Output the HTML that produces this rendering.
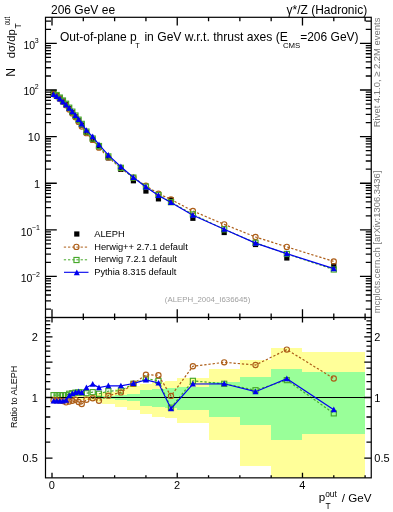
<!DOCTYPE html><html><head><meta charset="utf-8"><style>html,body{margin:0;padding:0;background:#fff;width:393px;height:512px;overflow:hidden}svg{display:block;font-family:"Liberation Sans",sans-serif}svg{will-change:transform}</style></head><body>
<svg width="393" height="512" viewBox="0 0 393 512">
<defs><clipPath id="cm"><rect x="45.50" y="17.30" width="325.75" height="300.20"/></clipPath>
<clipPath id="cr"><rect x="45.50" y="317.50" width="325.75" height="160.35"/></clipPath></defs>
<g clip-path="url(#cr)" shape-rendering="crispEdges">
<rect x="52.00" y="395.77" width="3.13" height="3.50" fill="#ffff99"/>
<rect x="52.00" y="396.80" width="3.13" height="1.40" fill="#99ff99"/>
<rect x="55.13" y="395.77" width="3.13" height="3.50" fill="#ffff99"/>
<rect x="55.13" y="396.80" width="3.13" height="1.40" fill="#99ff99"/>
<rect x="58.26" y="395.77" width="3.13" height="3.50" fill="#ffff99"/>
<rect x="58.26" y="396.80" width="3.13" height="1.40" fill="#99ff99"/>
<rect x="61.39" y="395.77" width="3.13" height="3.50" fill="#ffff99"/>
<rect x="61.39" y="396.80" width="3.13" height="1.40" fill="#99ff99"/>
<rect x="64.52" y="395.77" width="3.13" height="3.50" fill="#ffff99"/>
<rect x="64.52" y="396.80" width="3.13" height="1.40" fill="#99ff99"/>
<rect x="67.66" y="395.77" width="3.13" height="3.50" fill="#ffff99"/>
<rect x="67.66" y="396.80" width="3.13" height="1.40" fill="#99ff99"/>
<rect x="70.79" y="395.77" width="3.13" height="3.50" fill="#ffff99"/>
<rect x="70.79" y="396.80" width="3.13" height="1.40" fill="#99ff99"/>
<rect x="73.92" y="395.77" width="3.13" height="3.50" fill="#ffff99"/>
<rect x="73.92" y="396.80" width="3.13" height="1.40" fill="#99ff99"/>
<rect x="77.05" y="395.34" width="3.13" height="4.37" fill="#ffff99"/>
<rect x="77.05" y="396.80" width="3.13" height="1.40" fill="#99ff99"/>
<rect x="80.18" y="395.34" width="3.13" height="4.37" fill="#ffff99"/>
<rect x="80.18" y="396.80" width="3.13" height="1.40" fill="#99ff99"/>
<rect x="83.31" y="394.92" width="6.26" height="5.25" fill="#ffff99"/>
<rect x="83.31" y="396.63" width="6.26" height="1.75" fill="#99ff99"/>
<rect x="89.57" y="394.07" width="6.26" height="7.00" fill="#ffff99"/>
<rect x="89.57" y="396.46" width="6.26" height="2.10" fill="#99ff99"/>
<rect x="95.83" y="393.23" width="6.26" height="8.75" fill="#ffff99"/>
<rect x="95.83" y="396.28" width="6.26" height="2.45" fill="#99ff99"/>
<rect x="102.10" y="391.79" width="12.52" height="11.82" fill="#ffff99"/>
<rect x="102.10" y="396.03" width="12.52" height="2.97" fill="#99ff99"/>
<rect x="114.62" y="388.85" width="12.52" height="18.25" fill="#ffff99"/>
<rect x="114.62" y="395.26" width="12.52" height="4.55" fill="#99ff99"/>
<rect x="127.14" y="386.20" width="12.52" height="24.28" fill="#ffff99"/>
<rect x="127.14" y="394.07" width="12.52" height="7.00" fill="#99ff99"/>
<rect x="139.67" y="383.77" width="12.52" height="30.02" fill="#ffff99"/>
<rect x="139.67" y="390.05" width="12.52" height="15.60" fill="#99ff99"/>
<rect x="152.19" y="381.85" width="12.52" height="34.72" fill="#ffff99"/>
<rect x="152.19" y="389.17" width="12.52" height="17.54" fill="#99ff99"/>
<rect x="164.72" y="380.84" width="12.52" height="37.27" fill="#ffff99"/>
<rect x="164.72" y="388.22" width="12.52" height="19.67" fill="#99ff99"/>
<rect x="177.24" y="377.99" width="31.31" height="44.66" fill="#ffff99"/>
<rect x="177.24" y="386.89" width="31.31" height="22.68" fill="#99ff99"/>
<rect x="208.55" y="369.09" width="31.31" height="70.77" fill="#ffff99"/>
<rect x="208.55" y="381.56" width="31.31" height="35.45" fill="#99ff99"/>
<rect x="239.86" y="359.53" width="31.31" height="106.63" fill="#ffff99"/>
<rect x="239.86" y="376.60" width="31.31" height="48.41" fill="#99ff99"/>
<rect x="271.17" y="347.98" width="31.31" height="175.02" fill="#ffff99"/>
<rect x="271.17" y="369.15" width="31.31" height="70.56" fill="#99ff99"/>
<rect x="302.48" y="351.83" width="62.62" height="146.93" fill="#ffff99"/>
<rect x="302.48" y="372.04" width="62.62" height="61.52" fill="#99ff99"/>
</g>
<g clip-path="url(#cr)">
<path d="M53.57,395.17 L56.70,395.17 L59.83,395.17 L62.96,395.17 L66.09,395.17 L69.22,393.74 L72.35,393.23 L75.48,392.65 L78.61,392.41 L81.74,392.41 L86.44,393.23 L92.70,392.16 L98.97,393.74 L108.36,391.18 L120.88,390.61 L133.41,383.77 L145.93,378.69 L158.45,380.84 L170.98,407.69 L192.89,380.84 L224.20,383.77 L255.51,390.21 L286.82,380.12 L333.79,413.37" fill="none" stroke="#46a82a" stroke-width="1.2" stroke-dasharray="2.3,1.9"/><rect x="51.02" y="392.62" width="5.1" height="5.1" fill="none" stroke="#46a82a" stroke-width="1.15"/><rect x="54.15" y="392.62" width="5.1" height="5.1" fill="none" stroke="#46a82a" stroke-width="1.15"/><rect x="57.28" y="392.62" width="5.1" height="5.1" fill="none" stroke="#46a82a" stroke-width="1.15"/><rect x="60.41" y="392.62" width="5.1" height="5.1" fill="none" stroke="#46a82a" stroke-width="1.15"/><rect x="63.54" y="392.62" width="5.1" height="5.1" fill="none" stroke="#46a82a" stroke-width="1.15"/><rect x="66.67" y="391.19" width="5.1" height="5.1" fill="none" stroke="#46a82a" stroke-width="1.15"/><rect x="69.80" y="390.68" width="5.1" height="5.1" fill="none" stroke="#46a82a" stroke-width="1.15"/><rect x="72.93" y="390.10" width="5.1" height="5.1" fill="none" stroke="#46a82a" stroke-width="1.15"/><rect x="76.06" y="389.86" width="5.1" height="5.1" fill="none" stroke="#46a82a" stroke-width="1.15"/><rect x="79.19" y="389.86" width="5.1" height="5.1" fill="none" stroke="#46a82a" stroke-width="1.15"/><rect x="83.89" y="390.68" width="5.1" height="5.1" fill="none" stroke="#46a82a" stroke-width="1.15"/><rect x="90.15" y="389.61" width="5.1" height="5.1" fill="none" stroke="#46a82a" stroke-width="1.15"/><rect x="96.42" y="391.19" width="5.1" height="5.1" fill="none" stroke="#46a82a" stroke-width="1.15"/><rect x="105.81" y="388.63" width="5.1" height="5.1" fill="none" stroke="#46a82a" stroke-width="1.15"/><rect x="118.33" y="388.06" width="5.1" height="5.1" fill="none" stroke="#46a82a" stroke-width="1.15"/><rect x="130.86" y="381.22" width="5.1" height="5.1" fill="none" stroke="#46a82a" stroke-width="1.15"/><rect x="143.38" y="376.14" width="5.1" height="5.1" fill="none" stroke="#46a82a" stroke-width="1.15"/><rect x="155.90" y="378.29" width="5.1" height="5.1" fill="none" stroke="#46a82a" stroke-width="1.15"/><rect x="168.43" y="405.14" width="5.1" height="5.1" fill="none" stroke="#46a82a" stroke-width="1.15"/><rect x="190.34" y="378.29" width="5.1" height="5.1" fill="none" stroke="#46a82a" stroke-width="1.15"/><rect x="221.65" y="381.22" width="5.1" height="5.1" fill="none" stroke="#46a82a" stroke-width="1.15"/><rect x="252.96" y="387.66" width="5.1" height="5.1" fill="none" stroke="#46a82a" stroke-width="1.15"/><rect x="284.27" y="377.57" width="5.1" height="5.1" fill="none" stroke="#46a82a" stroke-width="1.15"/><rect x="331.24" y="410.82" width="5.1" height="5.1" fill="none" stroke="#46a82a" stroke-width="1.15"/>
<line x1="45.5" y1="397.5" x2="371.25" y2="397.5" stroke="#000" stroke-width="1"/>
<path d="M53.57,400.16 L56.70,400.16 L59.83,400.61 L62.96,401.07 L66.09,402.35 L69.22,401.53 L72.35,400.71 L75.48,399.80 L78.61,401.98 L81.74,404.03 L86.44,399.80 L92.70,398.20 L98.97,400.71 L108.36,395.68 L120.88,392.41 L133.41,383.77 L145.93,374.77 L158.45,375.24 L170.98,395.94 L192.89,366.23 L224.20,362.34 L255.51,365.02 L286.82,349.58 L333.79,378.55" fill="none" stroke="#ad5e18" stroke-width="1.2" stroke-dasharray="2.3,1.9"/><circle cx="53.57" cy="400.16" r="2.6" fill="none" stroke="#ad5e18" stroke-width="1.15"/><circle cx="56.70" cy="400.16" r="2.6" fill="none" stroke="#ad5e18" stroke-width="1.15"/><circle cx="59.83" cy="400.61" r="2.6" fill="none" stroke="#ad5e18" stroke-width="1.15"/><circle cx="62.96" cy="401.07" r="2.6" fill="none" stroke="#ad5e18" stroke-width="1.15"/><circle cx="66.09" cy="402.35" r="2.6" fill="none" stroke="#ad5e18" stroke-width="1.15"/><circle cx="69.22" cy="401.53" r="2.6" fill="none" stroke="#ad5e18" stroke-width="1.15"/><circle cx="72.35" cy="400.71" r="2.6" fill="none" stroke="#ad5e18" stroke-width="1.15"/><circle cx="75.48" cy="399.80" r="2.6" fill="none" stroke="#ad5e18" stroke-width="1.15"/><circle cx="78.61" cy="401.98" r="2.6" fill="none" stroke="#ad5e18" stroke-width="1.15"/><circle cx="81.74" cy="404.03" r="2.6" fill="none" stroke="#ad5e18" stroke-width="1.15"/><circle cx="86.44" cy="399.80" r="2.6" fill="none" stroke="#ad5e18" stroke-width="1.15"/><circle cx="92.70" cy="398.20" r="2.6" fill="none" stroke="#ad5e18" stroke-width="1.15"/><circle cx="98.97" cy="400.71" r="2.6" fill="none" stroke="#ad5e18" stroke-width="1.15"/><circle cx="108.36" cy="395.68" r="2.6" fill="none" stroke="#ad5e18" stroke-width="1.15"/><circle cx="120.88" cy="392.41" r="2.6" fill="none" stroke="#ad5e18" stroke-width="1.15"/><circle cx="133.41" cy="383.77" r="2.6" fill="none" stroke="#ad5e18" stroke-width="1.15"/><circle cx="145.93" cy="374.77" r="2.6" fill="none" stroke="#ad5e18" stroke-width="1.15"/><circle cx="158.45" cy="375.24" r="2.6" fill="none" stroke="#ad5e18" stroke-width="1.15"/><circle cx="170.98" cy="395.94" r="2.6" fill="none" stroke="#ad5e18" stroke-width="1.15"/><circle cx="192.89" cy="366.23" r="2.6" fill="none" stroke="#ad5e18" stroke-width="1.15"/><circle cx="224.20" cy="362.34" r="2.6" fill="none" stroke="#ad5e18" stroke-width="1.15"/><circle cx="255.51" cy="365.02" r="2.6" fill="none" stroke="#ad5e18" stroke-width="1.15"/><circle cx="286.82" cy="349.58" r="2.6" fill="none" stroke="#ad5e18" stroke-width="1.15"/><circle cx="333.79" cy="378.55" r="2.6" fill="none" stroke="#ad5e18" stroke-width="1.15"/>
<path d="M53.57,401.07 L56.70,401.07 L59.83,401.07 L62.96,401.07 L66.09,400.16 L69.22,395.77 L72.35,393.74 L75.48,392.41 L78.61,391.59 L81.74,392.65 L86.44,387.59 L92.70,384.15 L98.97,387.59 L108.36,385.74 L120.88,385.82 L133.41,383.48 L145.93,379.83 L158.45,383.03 L170.98,408.68 L192.89,384.00 L224.20,383.77 L255.51,391.67 L286.82,378.69 L333.79,409.67" fill="none" stroke="#0000ee" stroke-width="1.15"/><path d="M50.57,403.62L56.57,403.62L53.57,397.92Z" fill="#0000ee"/><path d="M53.70,403.62L59.70,403.62L56.70,397.92Z" fill="#0000ee"/><path d="M56.83,403.62L62.83,403.62L59.83,397.92Z" fill="#0000ee"/><path d="M59.96,403.62L65.96,403.62L62.96,397.92Z" fill="#0000ee"/><path d="M63.09,402.71L69.09,402.71L66.09,397.01Z" fill="#0000ee"/><path d="M66.22,398.32L72.22,398.32L69.22,392.62Z" fill="#0000ee"/><path d="M69.35,396.29L75.35,396.29L72.35,390.59Z" fill="#0000ee"/><path d="M72.48,394.96L78.48,394.96L75.48,389.26Z" fill="#0000ee"/><path d="M75.61,394.14L81.61,394.14L78.61,388.44Z" fill="#0000ee"/><path d="M78.74,395.20L84.74,395.20L81.74,389.50Z" fill="#0000ee"/><path d="M83.44,390.14L89.44,390.14L86.44,384.44Z" fill="#0000ee"/><path d="M89.70,386.70L95.70,386.70L92.70,381.00Z" fill="#0000ee"/><path d="M95.97,390.14L101.97,390.14L98.97,384.44Z" fill="#0000ee"/><path d="M105.36,388.29L111.36,388.29L108.36,382.59Z" fill="#0000ee"/><path d="M117.88,388.37L123.88,388.37L120.88,382.67Z" fill="#0000ee"/><path d="M130.41,386.03L136.41,386.03L133.41,380.33Z" fill="#0000ee"/><path d="M142.93,382.38L148.93,382.38L145.93,376.68Z" fill="#0000ee"/><path d="M155.45,385.58L161.45,385.58L158.45,379.88Z" fill="#0000ee"/><path d="M167.98,411.23L173.98,411.23L170.98,405.53Z" fill="#0000ee"/><path d="M189.89,386.55L195.89,386.55L192.89,380.85Z" fill="#0000ee"/><path d="M221.20,386.32L227.20,386.32L224.20,380.62Z" fill="#0000ee"/><path d="M252.51,394.22L258.51,394.22L255.51,388.52Z" fill="#0000ee"/><path d="M283.82,381.24L289.82,381.24L286.82,375.54Z" fill="#0000ee"/><path d="M330.79,412.22L336.79,412.22L333.79,406.52Z" fill="#0000ee"/>
</g>
<g clip-path="url(#cm)">
<rect x="50.97" y="90.94" width="5.2" height="5.2" fill="#000"/><rect x="54.10" y="92.97" width="5.2" height="5.2" fill="#000"/><rect x="57.23" y="95.52" width="5.2" height="5.2" fill="#000"/><rect x="60.36" y="98.44" width="5.2" height="5.2" fill="#000"/><rect x="63.49" y="101.64" width="5.2" height="5.2" fill="#000"/><rect x="66.62" y="105.96" width="5.2" height="5.2" fill="#000"/><rect x="69.75" y="110.04" width="5.2" height="5.2" fill="#000"/><rect x="72.88" y="114.06" width="5.2" height="5.2" fill="#000"/><rect x="76.01" y="118.24" width="5.2" height="5.2" fill="#000"/><rect x="79.14" y="122.46" width="5.2" height="5.2" fill="#000"/><rect x="83.84" y="129.99" width="5.2" height="5.2" fill="#000"/><rect x="90.10" y="137.19" width="5.2" height="5.2" fill="#000"/><rect x="96.37" y="144.29" width="5.2" height="5.2" fill="#000"/><rect x="105.76" y="155.27" width="5.2" height="5.2" fill="#000"/><rect x="118.28" y="166.80" width="5.2" height="5.2" fill="#000"/><rect x="130.81" y="178.16" width="5.2" height="5.2" fill="#000"/><rect x="143.33" y="188.44" width="5.2" height="5.2" fill="#000"/><rect x="155.85" y="196.26" width="5.2" height="5.2" fill="#000"/><rect x="168.38" y="197.25" width="5.2" height="5.2" fill="#000"/><rect x="190.29" y="215.68" width="5.2" height="5.2" fill="#000"/><rect x="221.60" y="229.90" width="5.2" height="5.2" fill="#000"/><rect x="252.91" y="241.89" width="5.2" height="5.2" fill="#000"/><rect x="284.22" y="255.38" width="5.2" height="5.2" fill="#000"/><rect x="331.19" y="263.23" width="5.2" height="5.2" fill="#000"/>
<path d="M53.57,94.16 L56.70,96.18 L59.83,98.84 L62.96,101.86 L66.09,105.37 L69.22,109.49 L72.35,113.38 L75.48,117.20 L78.61,121.88 L81.74,126.57 L86.44,133.13 L92.70,139.95 L98.97,147.64 L108.36,157.45 L120.88,168.22 L133.41,177.58 L145.93,185.77 L158.45,193.71 L170.98,199.49 L192.89,211.04 L224.20,224.36 L255.51,236.97 L286.82,246.89 L333.79,261.44" fill="none" stroke="#ad5e18" stroke-width="1.2" stroke-dasharray="2.3,1.9"/><circle cx="53.57" cy="94.16" r="2.6" fill="none" stroke="#ad5e18" stroke-width="1.15"/><circle cx="56.70" cy="96.18" r="2.6" fill="none" stroke="#ad5e18" stroke-width="1.15"/><circle cx="59.83" cy="98.84" r="2.6" fill="none" stroke="#ad5e18" stroke-width="1.15"/><circle cx="62.96" cy="101.86" r="2.6" fill="none" stroke="#ad5e18" stroke-width="1.15"/><circle cx="66.09" cy="105.37" r="2.6" fill="none" stroke="#ad5e18" stroke-width="1.15"/><circle cx="69.22" cy="109.49" r="2.6" fill="none" stroke="#ad5e18" stroke-width="1.15"/><circle cx="72.35" cy="113.38" r="2.6" fill="none" stroke="#ad5e18" stroke-width="1.15"/><circle cx="75.48" cy="117.20" r="2.6" fill="none" stroke="#ad5e18" stroke-width="1.15"/><circle cx="78.61" cy="121.88" r="2.6" fill="none" stroke="#ad5e18" stroke-width="1.15"/><circle cx="81.74" cy="126.57" r="2.6" fill="none" stroke="#ad5e18" stroke-width="1.15"/><circle cx="86.44" cy="133.13" r="2.6" fill="none" stroke="#ad5e18" stroke-width="1.15"/><circle cx="92.70" cy="139.95" r="2.6" fill="none" stroke="#ad5e18" stroke-width="1.15"/><circle cx="98.97" cy="147.64" r="2.6" fill="none" stroke="#ad5e18" stroke-width="1.15"/><circle cx="108.36" cy="157.45" r="2.6" fill="none" stroke="#ad5e18" stroke-width="1.15"/><circle cx="120.88" cy="168.22" r="2.6" fill="none" stroke="#ad5e18" stroke-width="1.15"/><circle cx="133.41" cy="177.58" r="2.6" fill="none" stroke="#ad5e18" stroke-width="1.15"/><circle cx="145.93" cy="185.77" r="2.6" fill="none" stroke="#ad5e18" stroke-width="1.15"/><circle cx="158.45" cy="193.71" r="2.6" fill="none" stroke="#ad5e18" stroke-width="1.15"/><circle cx="170.98" cy="199.49" r="2.6" fill="none" stroke="#ad5e18" stroke-width="1.15"/><circle cx="192.89" cy="211.04" r="2.6" fill="none" stroke="#ad5e18" stroke-width="1.15"/><circle cx="224.20" cy="224.36" r="2.6" fill="none" stroke="#ad5e18" stroke-width="1.15"/><circle cx="255.51" cy="236.97" r="2.6" fill="none" stroke="#ad5e18" stroke-width="1.15"/><circle cx="286.82" cy="246.89" r="2.6" fill="none" stroke="#ad5e18" stroke-width="1.15"/><circle cx="333.79" cy="261.44" r="2.6" fill="none" stroke="#ad5e18" stroke-width="1.15"/>
<path d="M53.57,93.00 L56.70,95.03 L59.83,97.58 L62.96,100.50 L66.09,103.71 L69.22,107.69 L72.35,111.65 L75.48,115.54 L78.61,119.67 L81.74,123.88 L86.44,131.61 L92.70,138.55 L98.97,146.02 L108.36,156.41 L120.88,167.81 L133.41,177.58 L145.93,186.68 L158.45,195.00 L170.98,202.21 L192.89,214.42 L224.20,229.32 L255.51,242.80 L286.82,253.96 L333.79,269.50" fill="none" stroke="#46a82a" stroke-width="1.2" stroke-dasharray="2.3,1.9"/><rect x="51.02" y="90.45" width="5.1" height="5.1" fill="none" stroke="#46a82a" stroke-width="1.15"/><rect x="54.15" y="92.48" width="5.1" height="5.1" fill="none" stroke="#46a82a" stroke-width="1.15"/><rect x="57.28" y="95.03" width="5.1" height="5.1" fill="none" stroke="#46a82a" stroke-width="1.15"/><rect x="60.41" y="97.95" width="5.1" height="5.1" fill="none" stroke="#46a82a" stroke-width="1.15"/><rect x="63.54" y="101.16" width="5.1" height="5.1" fill="none" stroke="#46a82a" stroke-width="1.15"/><rect x="66.67" y="105.14" width="5.1" height="5.1" fill="none" stroke="#46a82a" stroke-width="1.15"/><rect x="69.80" y="109.10" width="5.1" height="5.1" fill="none" stroke="#46a82a" stroke-width="1.15"/><rect x="72.93" y="112.99" width="5.1" height="5.1" fill="none" stroke="#46a82a" stroke-width="1.15"/><rect x="76.06" y="117.12" width="5.1" height="5.1" fill="none" stroke="#46a82a" stroke-width="1.15"/><rect x="79.19" y="121.33" width="5.1" height="5.1" fill="none" stroke="#46a82a" stroke-width="1.15"/><rect x="83.89" y="129.06" width="5.1" height="5.1" fill="none" stroke="#46a82a" stroke-width="1.15"/><rect x="90.15" y="136.00" width="5.1" height="5.1" fill="none" stroke="#46a82a" stroke-width="1.15"/><rect x="96.42" y="143.47" width="5.1" height="5.1" fill="none" stroke="#46a82a" stroke-width="1.15"/><rect x="105.81" y="153.86" width="5.1" height="5.1" fill="none" stroke="#46a82a" stroke-width="1.15"/><rect x="118.33" y="165.26" width="5.1" height="5.1" fill="none" stroke="#46a82a" stroke-width="1.15"/><rect x="130.86" y="175.03" width="5.1" height="5.1" fill="none" stroke="#46a82a" stroke-width="1.15"/><rect x="143.38" y="184.13" width="5.1" height="5.1" fill="none" stroke="#46a82a" stroke-width="1.15"/><rect x="155.90" y="192.45" width="5.1" height="5.1" fill="none" stroke="#46a82a" stroke-width="1.15"/><rect x="168.43" y="199.66" width="5.1" height="5.1" fill="none" stroke="#46a82a" stroke-width="1.15"/><rect x="190.34" y="211.87" width="5.1" height="5.1" fill="none" stroke="#46a82a" stroke-width="1.15"/><rect x="221.65" y="226.77" width="5.1" height="5.1" fill="none" stroke="#46a82a" stroke-width="1.15"/><rect x="252.96" y="240.25" width="5.1" height="5.1" fill="none" stroke="#46a82a" stroke-width="1.15"/><rect x="284.27" y="251.41" width="5.1" height="5.1" fill="none" stroke="#46a82a" stroke-width="1.15"/><rect x="331.24" y="266.95" width="5.1" height="5.1" fill="none" stroke="#46a82a" stroke-width="1.15"/>
<path d="M53.57,94.37 L56.70,96.39 L59.83,98.94 L62.96,101.86 L66.09,104.86 L69.22,108.16 L72.35,111.77 L75.48,115.49 L78.61,119.47 L81.74,123.94 L86.44,130.30 L92.70,136.70 L98.97,144.60 L108.36,155.15 L120.88,166.70 L133.41,177.51 L145.93,186.95 L158.45,195.51 L170.98,202.44 L192.89,215.16 L224.20,229.32 L255.51,243.14 L286.82,253.63 L333.79,268.65" fill="none" stroke="#0000ee" stroke-width="1.15"/><path d="M50.57,96.92L56.57,96.92L53.57,91.22Z" fill="#0000ee"/><path d="M53.70,98.94L59.70,98.94L56.70,93.24Z" fill="#0000ee"/><path d="M56.83,101.49L62.83,101.49L59.83,95.79Z" fill="#0000ee"/><path d="M59.96,104.41L65.96,104.41L62.96,98.71Z" fill="#0000ee"/><path d="M63.09,107.41L69.09,107.41L66.09,101.71Z" fill="#0000ee"/><path d="M66.22,110.71L72.22,110.71L69.22,105.01Z" fill="#0000ee"/><path d="M69.35,114.32L75.35,114.32L72.35,108.62Z" fill="#0000ee"/><path d="M72.48,118.04L78.48,118.04L75.48,112.34Z" fill="#0000ee"/><path d="M75.61,122.02L81.61,122.02L78.61,116.32Z" fill="#0000ee"/><path d="M78.74,126.49L84.74,126.49L81.74,120.79Z" fill="#0000ee"/><path d="M83.44,132.85L89.44,132.85L86.44,127.15Z" fill="#0000ee"/><path d="M89.70,139.25L95.70,139.25L92.70,133.55Z" fill="#0000ee"/><path d="M95.97,147.15L101.97,147.15L98.97,141.45Z" fill="#0000ee"/><path d="M105.36,157.70L111.36,157.70L108.36,152.00Z" fill="#0000ee"/><path d="M117.88,169.25L123.88,169.25L120.88,163.55Z" fill="#0000ee"/><path d="M130.41,180.06L136.41,180.06L133.41,174.36Z" fill="#0000ee"/><path d="M142.93,189.50L148.93,189.50L145.93,183.80Z" fill="#0000ee"/><path d="M155.45,198.06L161.45,198.06L158.45,192.36Z" fill="#0000ee"/><path d="M167.98,204.99L173.98,204.99L170.98,199.29Z" fill="#0000ee"/><path d="M189.89,217.71L195.89,217.71L192.89,212.01Z" fill="#0000ee"/><path d="M221.20,231.87L227.20,231.87L224.20,226.17Z" fill="#0000ee"/><path d="M252.51,245.69L258.51,245.69L255.51,239.99Z" fill="#0000ee"/><path d="M283.82,256.18L289.82,256.18L286.82,250.48Z" fill="#0000ee"/><path d="M330.79,271.20L336.79,271.20L333.79,265.50Z" fill="#0000ee"/>
</g>
<rect x="45.5" y="17.3" width="325.75" height="300.20" fill="none" stroke="#000" stroke-width="1.2"/>
<rect x="45.5" y="317.5" width="325.75" height="160.35" fill="none" stroke="#000" stroke-width="1.2"/>
<path d="M45.5,309.03h5.5M371.25,309.03h-5.5M45.5,300.82h5.5M371.25,300.82h-5.5M45.5,295.00h5.5M371.25,295.00h-5.5M45.5,290.48h5.5M371.25,290.48h-5.5M45.5,286.79h5.5M371.25,286.79h-5.5M45.5,283.67h5.5M371.25,283.67h-5.5M45.5,280.97h5.5M371.25,280.97h-5.5M45.5,278.58h5.5M371.25,278.58h-5.5M45.5,276.45h11.3M371.25,276.45h-11.3M45.5,262.42h5.5M371.25,262.42h-5.5M45.5,254.21h5.5M371.25,254.21h-5.5M45.5,248.39h5.5M371.25,248.39h-5.5M45.5,243.87h5.5M371.25,243.87h-5.5M45.5,240.18h5.5M371.25,240.18h-5.5M45.5,237.06h5.5M371.25,237.06h-5.5M45.5,234.36h5.5M371.25,234.36h-5.5M45.5,231.97h5.5M371.25,231.97h-5.5M45.5,229.84h11.3M371.25,229.84h-11.3M45.5,215.81h5.5M371.25,215.81h-5.5M45.5,207.60h5.5M371.25,207.60h-5.5M45.5,201.78h5.5M371.25,201.78h-5.5M45.5,197.26h5.5M371.25,197.26h-5.5M45.5,193.57h5.5M371.25,193.57h-5.5M45.5,190.45h5.5M371.25,190.45h-5.5M45.5,187.75h5.5M371.25,187.75h-5.5M45.5,185.36h5.5M371.25,185.36h-5.5M45.5,183.23h11.3M371.25,183.23h-11.3M45.5,169.20h5.5M371.25,169.20h-5.5M45.5,160.99h5.5M371.25,160.99h-5.5M45.5,155.17h5.5M371.25,155.17h-5.5M45.5,150.65h5.5M371.25,150.65h-5.5M45.5,146.96h5.5M371.25,146.96h-5.5M45.5,143.84h5.5M371.25,143.84h-5.5M45.5,141.14h5.5M371.25,141.14h-5.5M45.5,138.75h5.5M371.25,138.75h-5.5M45.5,136.62h11.3M371.25,136.62h-11.3M45.5,122.59h5.5M371.25,122.59h-5.5M45.5,114.38h5.5M371.25,114.38h-5.5M45.5,108.56h5.5M371.25,108.56h-5.5M45.5,104.04h5.5M371.25,104.04h-5.5M45.5,100.35h5.5M371.25,100.35h-5.5M45.5,97.23h5.5M371.25,97.23h-5.5M45.5,94.53h5.5M371.25,94.53h-5.5M45.5,92.14h5.5M371.25,92.14h-5.5M45.5,90.01h11.3M371.25,90.01h-11.3M45.5,75.98h5.5M371.25,75.98h-5.5M45.5,67.77h5.5M371.25,67.77h-5.5M45.5,61.95h5.5M371.25,61.95h-5.5M45.5,57.43h5.5M371.25,57.43h-5.5M45.5,53.74h5.5M371.25,53.74h-5.5M45.5,50.62h5.5M371.25,50.62h-5.5M45.5,47.92h5.5M371.25,47.92h-5.5M45.5,45.53h5.5M371.25,45.53h-5.5M45.5,43.40h11.3M371.25,43.40h-11.3M45.5,29.37h5.5M371.25,29.37h-5.5M45.5,21.16h5.5M371.25,21.16h-5.5M52.00,17.3v8.2M52.00,317.5v-8.2M52.00,317.5v5M52.00,477.85v-5M83.31,17.3v4M83.31,317.5v-4M83.31,317.5v2.5M83.31,477.85v-2.5M114.62,17.3v4M114.62,317.5v-4M114.62,317.5v2.5M114.62,477.85v-2.5M145.93,17.3v4M145.93,317.5v-4M145.93,317.5v2.5M145.93,477.85v-2.5M177.24,17.3v8.2M177.24,317.5v-8.2M177.24,317.5v5M177.24,477.85v-5M208.55,17.3v4M208.55,317.5v-4M208.55,317.5v2.5M208.55,477.85v-2.5M239.86,17.3v4M239.86,317.5v-4M239.86,317.5v2.5M239.86,477.85v-2.5M271.17,17.3v4M271.17,317.5v-4M271.17,317.5v2.5M271.17,477.85v-2.5M302.48,17.3v8.2M302.48,317.5v-8.2M302.48,317.5v5M302.48,477.85v-5M333.79,17.3v4M333.79,317.5v-4M333.79,317.5v2.5M333.79,477.85v-2.5M365.10,17.3v4M365.10,317.5v-4M365.10,317.5v2.5M365.10,477.85v-2.5M45.5,458.10h7M371.25,458.10h-7M45.5,442.16h4.8M371.25,442.16h-4.8M45.5,428.68h4.8M371.25,428.68h-4.8M45.5,417.01h4.8M371.25,417.01h-4.8M45.5,406.71h4.8M371.25,406.71h-4.8M45.5,397.50h7M371.25,397.50h-7M45.5,389.17h4.8M371.25,389.17h-4.8M45.5,381.56h4.8M371.25,381.56h-4.8M45.5,374.56h4.8M371.25,374.56h-4.8M45.5,368.08h4.8M371.25,368.08h-4.8M45.5,362.05h7M371.25,362.05h-7M45.5,356.41h4.8M371.25,356.41h-4.8M45.5,351.11h4.8M371.25,351.11h-4.8M45.5,346.11h4.8M371.25,346.11h-4.8M45.5,341.39h4.8M371.25,341.39h-4.8M45.5,336.90h7M371.25,336.90h-7M45.5,332.64h4.8M371.25,332.64h-4.8M45.5,328.57h4.8M371.25,328.57h-4.8M45.5,324.68h4.8M371.25,324.68h-4.8M45.5,320.96h4.8M371.25,320.96h-4.8" stroke="#000" stroke-width="1.3" fill="none"/>
<g fill="#000">
<text x="51" y="13.8" font-size="12">206 GeV ee</text>
<text x="367.2" y="13.8" font-size="12" text-anchor="end">γ*/Z (Hadronic)</text>
<text x="60" y="40.8" font-size="12">Out-of-plane p</text>
<text x="135.3" y="47.6" font-size="7.3">T</text>
<text x="144.4" y="40.8" font-size="12.13">in GeV w.r.t. thrust axes (E</text>
<text x="282.9" y="47.8" font-size="7.8">CMS</text>
<text x="300.2" y="40.8" font-size="12">=206 GeV)</text>
<text x="35.2" y="48.50" font-size="10.5" text-anchor="end">10</text><text x="34.8" y="42.80" font-size="7">3</text>
<text x="35.2" y="95.11" font-size="10.5" text-anchor="end">10</text><text x="34.8" y="89.41" font-size="7">2</text>
<text x="32.4" y="235.54" font-size="10.5" text-anchor="end">10</text><text x="31.8" y="229.94" font-size="7">−1</text>
<text x="32.4" y="282.15" font-size="10.5" text-anchor="end">10</text><text x="31.8" y="276.55" font-size="7">−2</text>
<text x="40.1" y="141.22" font-size="11" text-anchor="end">10</text>
<text x="40.1" y="187.83" font-size="11" text-anchor="end">1</text>
<g transform="translate(14.8,76.8) rotate(-90)"><text x="0" y="0" font-size="12">N</text><text x="18.6" y="0" font-size="11.3">dσ/dp</text><text x="48.3" y="6.5" font-size="8.4">T</text><text x="51.5" y="-4.8" font-size="8.5" textLength="8.4" lengthAdjust="spacingAndGlyphs">out</text></g>
<text x="94.2" y="237.3" font-size="9.3">ALEPH</text>
<text x="94.2" y="249.8" font-size="9.3">Herwig++ 2.7.1 default</text>
<text x="94.2" y="262.4" font-size="9.3">Herwig 7.2.1 default</text>
<text x="94.2" y="275.2" font-size="9.3">Pythia 8.315 default</text>
</g>
<rect x="74.20" y="231.40" width="5.2" height="5.2" fill="#000"/>
<path d="M63.8,247.1H88.5" stroke="#ad5e18" stroke-width="1" stroke-dasharray="2.3,1.9"/><circle cx="76.40" cy="246.90" r="2.6" fill="none" stroke="#ad5e18" stroke-width="1.15"/>
<path d="M63.8,259.8H88.5" stroke="#46a82a" stroke-width="1" stroke-dasharray="2.3,1.9"/><rect x="73.95" y="257.45" width="5.1" height="5.1" fill="none" stroke="#46a82a" stroke-width="1.15"/>
<path d="M64,272.3H88.5" stroke="#0000ee" stroke-width="1.1"/><path d="M73.80,275.15L79.80,275.15L76.80,269.45Z" fill="#0000ee"/>
<text x="164.8" y="301.8" font-size="7.85" fill="#a0a0a0">(ALEPH_2004_I636645)</text>
<text transform="translate(380.4,127.2) rotate(-90)" font-size="9.45" fill="#777">Rivet 4.1.0, ≥ 2.2M events</text>
<text transform="translate(380.4,313.3) rotate(-90)" font-size="9.45" fill="#777">mcplots.cern.ch [arXiv:1306.3436]</text>
<g fill="#000" font-size="11">
<text x="37.9" y="340.90" text-anchor="end">2</text>
<text x="374.3" y="340.90">2</text>
<text x="37.9" y="401.50" text-anchor="end">1</text>
<text x="374.3" y="401.50">1</text>
<text x="37.9" y="462.10" text-anchor="end">0.5</text>
<text x="374.3" y="462.10">0.5</text>
<text x="51.90" y="489" text-anchor="middle">0</text>
<text x="177.14" y="489" text-anchor="middle">2</text>
<text x="302.38" y="489" text-anchor="middle">4</text>
</g>
<text transform="translate(16.8,428) rotate(-90)" font-size="8.95">Ratio to ALEPH</text>
<text x="318.8" y="501.4" font-size="11.6">p</text>
<text x="325.2" y="496.9" font-size="8.4">out</text>
<text x="325.4" y="508.6" font-size="8.4">T</text>
<text x="341.8" y="501.6" font-size="11.6">/ GeV</text>
</svg></body></html>
